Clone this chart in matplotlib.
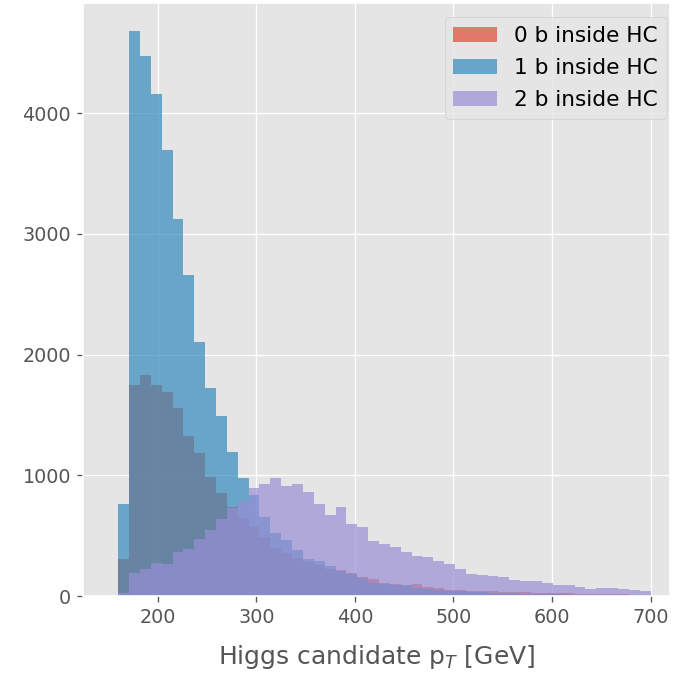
import numpy as np
import matplotlib.pyplot as plt

plt.style.use('ggplot')

# 49 bins between 160 and 700 GeV
edges = np.linspace(160, 700, 50)

labels = ['0 b inside HC', '1 b inside HC', '2 b inside HC']

counts_0b = [304, 1745, 1831, 1745, 1693, 1555, 1325, 1181, 990, 852,
             740, 650, 575, 490, 400, 355, 315, 280, 255, 225,
             215, 190, 160, 140, 112, 98, 90, 100, 75, 64,
             52, 46, 42, 44, 38, 34, 34, 30, 27, 25,
             28, 22, 20, 17, 20, 15, 13, 11, 10]

counts_1b = [763, 4680, 4476, 4158, 3698, 3123, 2664, 2102, 1721, 1488,
             1195, 978, 838, 658, 520, 465, 382, 310, 290, 250,
             205, 180, 150, 105, 100, 92, 88, 70, 62, 46,
             45, 38, 36, 30, 28, 25, 22, 20, 18, 16,
             14, 12, 11, 9, 8, 7, 6, 5, 5]

counts_2b = [22, 188, 227, 277, 263, 365, 393, 470, 548, 640,
             730, 785, 897, 929, 976, 913, 928, 862, 763, 672,
             736, 597, 570, 459, 435, 404, 368, 330, 322, 292,
             263, 225, 183, 172, 162, 158, 135, 122, 124, 108,
             95, 88, 76, 60, 66, 66, 55, 47, 44]

centers = 0.5 * (edges[:-1] + edges[1:])

fig = plt.figure(figsize=(673 / 120, 675 / 120), dpi=120)
ax = fig.add_axes([0.123, 0.1170, 0.873, 0.8786])

for counts, lab in zip([counts_0b, counts_1b, counts_2b], labels):
    ax.hist(centers, bins=edges, weights=counts, histtype='stepfilled',
            alpha=0.7, label=lab)

ax.set_xlim(124, 720)
ax.tick_params(labelsize=11.5)
ax.set_xlabel('Higgs candidate p$_T$ [GeV]', fontsize=15, labelpad=10)
ax.legend(loc='upper right', bbox_to_anchor=(1.012, 0.994), fontsize=13,
          labelspacing=0.55)

fig.savefig('out.png', dpi=120)
